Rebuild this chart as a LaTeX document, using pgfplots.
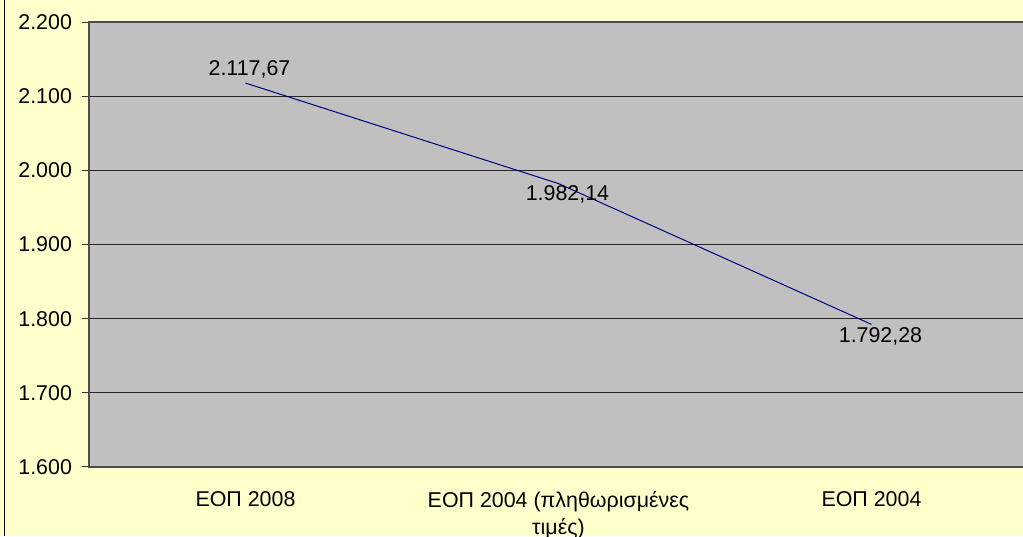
\documentclass[border=0pt]{standalone}
\usepackage{pgfplots}
\pgfplotsset{compat=1.18}
\usepackage{fontspec}
\setmainfont{Liberation Sans}
\definecolor{bgyellow}{HTML}{FFFFCC}
\definecolor{plotgray}{HTML}{C0C0C0}
\definecolor{navyline}{HTML}{000080}
\newcommand{\chartfont}{\fontsize{10.7}{13.6}\selectfont}
\begin{document}
\begin{tikzpicture}
\useasboundingbox (0,0) rectangle (511.5pt,268pt);
\clip (0,0) rectangle (511.5pt,268pt);
\fill[bgyellow] (0,0) rectangle (511.5pt,268pt);
\draw[black, line width=0.6pt] (2.4pt,0) -- (2.4pt,268pt);
\begin{axis}[
  at={(44.5pt,34.5pt)}, anchor=south west,
  scale only axis, width=469.5pt, height=222.5pt,
  xmin=-0.5, xmax=2.5, ymin=1600, ymax=2200,
  axis background/.style={fill=plotgray},
  axis line style={draw=black!70, line width=0.6pt},
  tick label style={font=\chartfont},
  ytick={1600,1700,1800,1900,2000,2100,2200},
  yticklabels={1.600,1.700,1.800,1.900,2.000,2.100,2.200},
  ymajorgrids, major grid style={black!85, line width=0.5pt},
  tick align=outside, major tick length=3.5pt,
  tick style={black!80, line width=0.5pt},
  ytick pos=left, xtick pos=bottom,
  yticklabel style={xshift=-1.5pt},
  xtick={0,1,2},
  xticklabels={ΕΟΠ 2008,{ΕΟΠ 2004 (πληθωρισμένες\\τιμές)},ΕΟΠ 2004},
  xticklabel style={align=center, yshift=-5pt},
  major x tick style={draw=none},
  extra x ticks={-0.5,0.5,1.5,2.5},
  extra x tick labels={},
  extra x tick style={grid=none, major tick length=3pt, tick style={black!80}},
  clip=false,
]
\addplot[navyline, line width=0.5pt, mark=none,
  nodes near coords, point meta=explicit symbolic,
  visualization depends on={value \thisrow{dx} \as \dx},
  visualization depends on={value \thisrow{dy} \as \dy},
  every node near coord/.append style={anchor=center, xshift=\dx pt, yshift=\dy pt, text=black, inner sep=0pt, font=\chartfont}]
  table[x=x, y=y, meta=lab] {
x y lab dx dy
0 2117.67 2.117,67 2 7
1 1982.14 1.982,14 4.5 -5.5
2 1792.28 1.792,28 4.5 -6.25
};
\end{axis}
\end{tikzpicture}
\end{document}
